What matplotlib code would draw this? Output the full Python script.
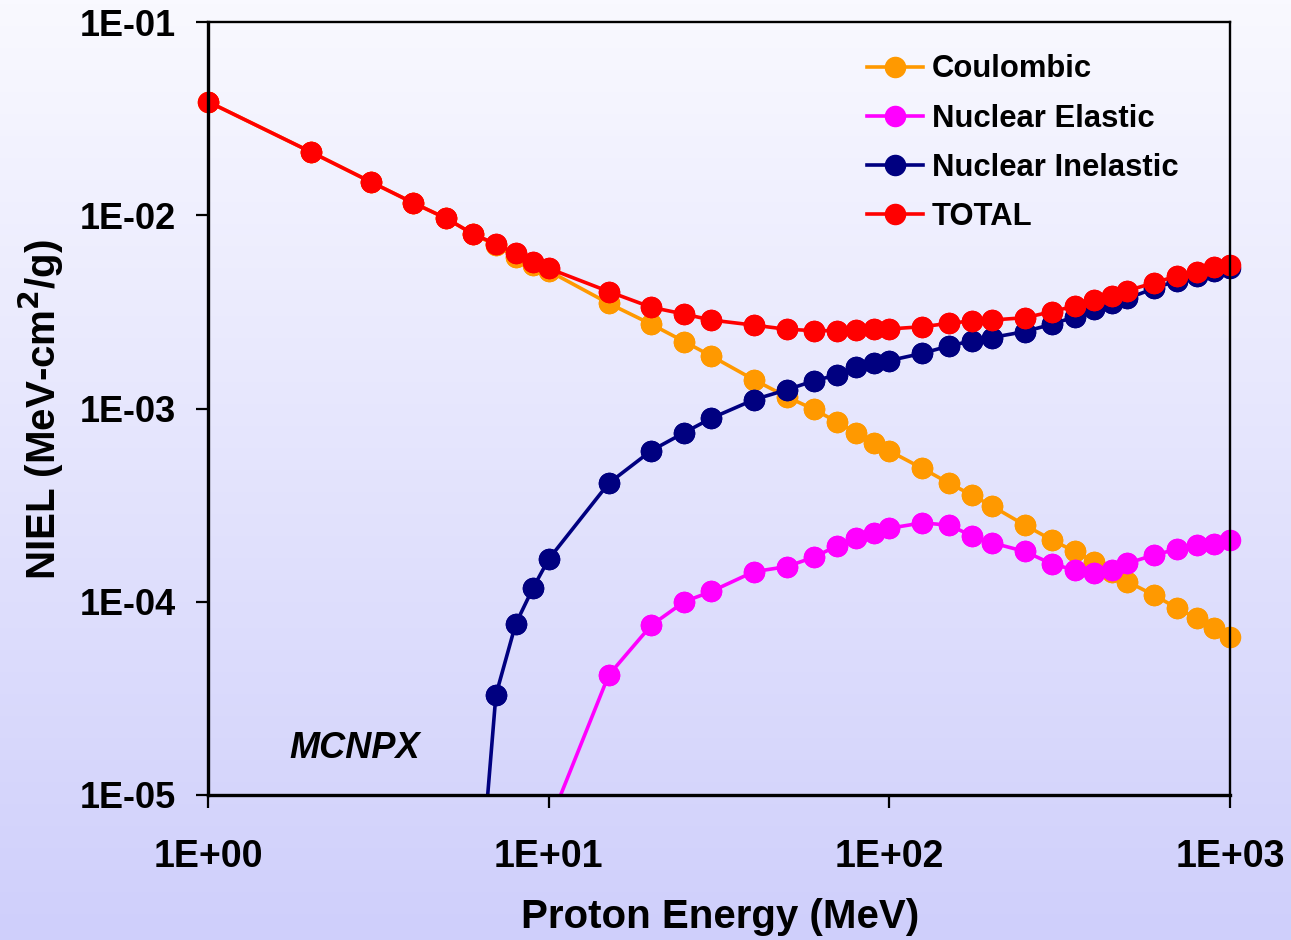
import numpy as np
import matplotlib
matplotlib.use('Agg')
import matplotlib.pyplot as plt
from matplotlib.ticker import FixedLocator, FuncFormatter, NullLocator

plt.rcParams['font.family'] = ['Liberation Sans', 'DejaVu Sans']
plt.rcParams['font.weight'] = 'bold'

# energies (MeV)
energy = [1, 2, 3, 4, 5, 6, 7, 8, 9, 10, 15, 20, 25, 30, 40, 50, 60, 70, 80, 90,
          100, 125, 150, 175, 200, 250, 300, 350, 400, 450, 500, 600, 700, 800, 900, 1000]

coulombic = [0.0387, 0.0213, 0.0149, 0.0116, 0.00964, 0.0080, 0.0070, 0.0061, 0.00555, 0.00515,
             0.00350, 0.00273, 0.00222, 0.00187, 0.00141, 0.00115, 0.000990, 0.000855, 0.000750, 0.000661,
             0.000603, 0.000490, 0.000410, 0.000356, 0.000313, 0.000249, 0.000209, 0.000182, 0.000161, 0.000143,
             0.000127, 0.000108, 0.0000925, 0.0000820, 0.0000729, 0.0000660]

# elastic starts at 10 MeV (below plot range there)
elastic_energy = energy[9:]
elastic = [7.0e-6, 4.17e-5, 7.55e-5, 1.00e-4, 1.13e-4, 1.43e-4, 1.52e-4, 1.70e-4, 1.94e-4, 2.15e-4, 2.26e-4,
           2.40e-4, 2.56e-4, 2.49e-4, 2.19e-4, 2.02e-4, 1.82e-4, 1.57e-4, 1.46e-4, 1.41e-4, 1.46e-4,
           1.58e-4, 1.75e-4, 1.87e-4, 1.97e-4, 1.99e-4, 2.09e-4]

# inelastic starts at 6 MeV
inelastic_energy = energy[5:]
inelastic = [1.2e-6, 3.29e-5, 7.67e-5, 1.18e-4, 1.66e-4,
             0.000410, 0.000605, 0.000750, 0.000890, 0.00111, 0.00125, 0.00139, 0.00149, 0.00163, 0.00171,
             0.00177, 0.00193, 0.00211, 0.00224, 0.00233, 0.00250, 0.00273, 0.00298, 0.00326, 0.00350,
             0.00371, 0.00419, 0.00459, 0.00485, 0.00517, 0.00531]

total = [0.0387, 0.0213, 0.0149, 0.0116, 0.00964, 0.0080, 0.0071, 0.00635, 0.00575, 0.00531,
         0.00403, 0.00334, 0.00308, 0.00287, 0.00270, 0.00257, 0.00253, 0.00253, 0.00255, 0.00257,
         0.00258, 0.00265, 0.00276, 0.00284, 0.00287, 0.00295, 0.00317, 0.00339, 0.00364, 0.00382,
         0.00407, 0.00448, 0.00485, 0.00511, 0.00538, 0.00553]

series = [
    (energy, coulombic, '#FF9900', 'Coulombic'),
    (elastic_energy, elastic, '#FF00FF', 'Nuclear Elastic'),
    (inelastic_energy, inelastic, '#000080', 'Nuclear Inelastic'),
    (energy, total, '#FF0000', 'TOTAL'),
]

ymin, ymax = 1e-5, 1e-1

fig = plt.figure(figsize=(12.91, 9.40), dpi=100)

# background gradient
bg = fig.add_axes([0, 0, 1, 1], zorder=0)
top_c = np.array([249, 249, 255]) / 255
bot_c = np.array([207, 207, 251]) / 255
t = np.linspace(0, 1, 256)[:, None]
grad = top_c[None, :] * (1 - t) + bot_c[None, :] * t
bg.imshow(grad[:, None, :], aspect='auto', extent=[0, 1, 0, 1])
bg.axis('off')

ax = fig.add_axes([208 / 1291, 1 - 795 / 940, (1230 - 208) / 1291, (795 - 22) / 940], zorder=1)
ax.set_facecolor('none')

ms = 14.5
lw = 2.6
for x, y, c, name in series:
    x = np.array(x)
    y = np.array(y)
    ax.plot(x, y, '-o', color=c, lw=lw, ms=ms, label=name)
    # markers inside the range are not clipped at the frame
    inside = (y >= ymin) & (y <= ymax)
    ax.plot(x[inside], y[inside], 'o', color=c, ms=ms, clip_on=False)

ax.set_xscale('log')
ax.set_yscale('log')
ax.set_xlim(1, 1000)
ax.set_ylim(ymin, ymax)

ax.xaxis.set_major_locator(FixedLocator([1, 10, 100, 1000]))
ax.yaxis.set_major_locator(FixedLocator([1e-5, 1e-4, 1e-3, 1e-2, 1e-1]))
ax.xaxis.set_minor_locator(NullLocator())
ax.yaxis.set_minor_locator(NullLocator())
fmt = FuncFormatter(lambda v, _: f'1E{int(round(np.log10(v))):+03d}')
ax.xaxis.set_major_formatter(fmt)
ax.yaxis.set_major_formatter(fmt)

ax.tick_params(axis='both', which='major', direction='out', length=9, width=1.6)
ax.tick_params(axis='y', pad=14, labelsize=26)
ax.tick_params(axis='x', pad=23, labelsize=27)
for side in ['left', 'bottom']:
    ax.spines[side].set_linewidth(2.4)
for side in ['top', 'right']:
    ax.spines[side].set_linewidth(1.7)

ax.set_xlabel('Proton Energy (MeV)', fontsize=29, fontweight='bold')
ax.set_ylabel('NIEL (MeV-cm$^\\mathbf{2}$/g)', fontsize=29, fontweight='bold')
ax.xaxis.set_label_coords(0.501, -0.133)
ax.yaxis.set_label_coords(-0.139, 0.499)

ax.text(0.1438, 0.06, 'MCNPX', transform=ax.transAxes, fontsize=26, fontweight='bold',
        style='italic', ha='center', va='center')

leg = ax.legend(loc='upper left', bbox_to_anchor=(0.645, 0.958), frameon=False,
                fontsize=22.3, handlelength=1.8, handletextpad=0.28, labelspacing=0.62,
                borderpad=0, borderaxespad=0, numpoints=1)

fig.savefig('out.png', dpi=100)
